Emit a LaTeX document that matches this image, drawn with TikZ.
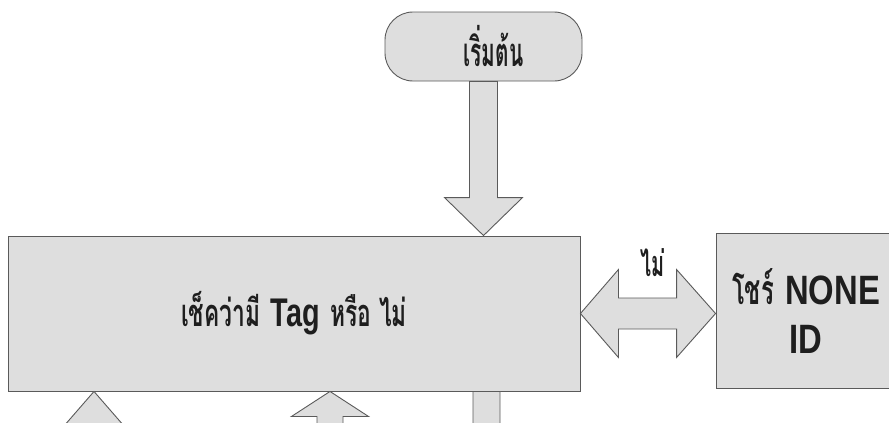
\documentclass[tikz,border=0pt]{standalone}
\usepackage{graphicx}
\usepackage{fontspec}
\setmainfont{Liberation Sans}
\newfontfamily\thaifont[Script=Thai]{Loma}
\usetikzlibrary{calc}

\definecolor{boxfill}{HTML}{DEDEDE}
\definecolor{boxline}{HTML}{5A5A5A}
\definecolor{ink}{HTML}{1E1E1E}

% narrow Thai and Latin runs
\newcommand{\thtxt}[2][0.6]{\scalebox{#1}[1]{\thaifont\bfseries #2}}
\newcommand{\latxt}[2][0.75]{\scalebox{#1}[1]{\bfseries #2}}

% vertical block arrow: #1 tail point, #2 tip point,
% #3 shaft half-width, #4 head half-width, #5 head length
\newcommand{\vfat}[5]{%
  \draw[fatarrow] let \p1=(#1), \p2=(#2), \n1={ifthenelse(\y1>\y2,1,-1)} in
    (\x2-#3,\y1) -- (\x2-#3,\y2+\n1*#5) -- (\x2-#4,\y2+\n1*#5) -- (\x2,\y2)
    -- (\x2+#4,\y2+\n1*#5) -- (\x2+#3,\y2+\n1*#5) -- (\x2+#3,\y1) -- cycle;}

\begin{document}
\begin{tikzpicture}[x=1pt,y=-1pt,
  blk/.style={draw=boxline, fill=boxfill, line width=0.9pt, text=ink, inner sep=0pt},
  fatarrow/.style={draw=boxline, fill=boxfill, line width=0.9pt, line join=miter}]

\useasboundingbox (0,0) rectangle (889,423);
\clip (0,0) rectangle (889,423);

% boxes
\node[blk, rounded corners=28pt, minimum width=197pt, minimum height=69pt,
      font=\fontsize{40}{44}\selectfont] (start) at (483.5,46.5)
      {\hspace{20pt}\thtxt[0.52]{เริ่มต้น}};

\node[blk, minimum width=572pt, minimum height=155pt,
      font=\fontsize{38}{44}\selectfont] (check) at (294,313.5)
      {\raisebox{-6pt}{\thtxt{เช็คว่ามี} {\fontsize{40}{44}\selectfont\latxt[0.72]{Tag}} \thtxt{หรือ ไม่}}};

\node[blk, minimum width=180pt, minimum height=155pt, align=center,
      font=\fontsize{41}{49}\selectfont] (show) at (806,310.5)
      {\thtxt[0.58]{โชร์} \latxt[0.8]{NONE}\\\latxt[0.8]{ID}};

% free ends below the frame
\coordinate (feedA) at (94,470);
\coordinate (feedB) at (330,470);
\coordinate (exitC) at (486.5,480);

% connectors
\vfat{start.south}{start.south |- check.north}{14pt}{39pt}{38pt}
\vfat{feedA}{feedA |- check.south}{13pt}{40pt}{46pt}
\vfat{feedB}{feedB |- check.south}{13pt}{38.5pt}{25pt}
\vfat{check.south -| exitC}{exitC}{13.5pt}{39pt}{38pt}

\draw[fatarrow] let \p1=(check.east), \p2=(show.west) in
  (\x1,\y1) -- (\x1+38pt,\y1+44pt) -- (\x1+38pt,\y1+15.5pt)
  -- (\x2-39pt,\y1+15.5pt) -- (\x2-39pt,\y1+44pt) -- (\x2,\y1)
  -- (\x2-39pt,\y1-44pt) -- (\x2-39pt,\y1-15.5pt)
  -- (\x1+38pt,\y1-15.5pt) -- (\x1+38pt,\y1-44pt) -- cycle;

\node[text=ink, inner sep=0pt, font=\fontsize{36}{40}\selectfont] (no) at (653,263) {\thtxt[0.55]{ไม่}};

\end{tikzpicture}
\end{document}
